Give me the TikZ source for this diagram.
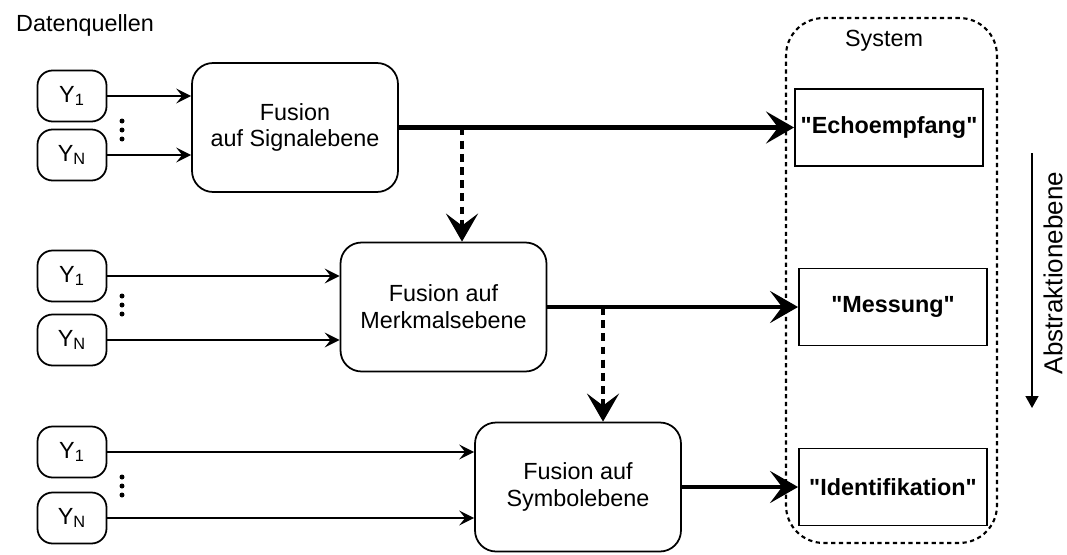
\documentclass[tikz,border=0pt]{standalone}
\usepackage{fontspec}
\setmainfont{Liberation Sans}
\usetikzlibrary{shapes,arrows.meta}
\tikzset{%
	source/.style   	= {draw, line width=1pt, rectangle, rounded corners=0.3cm, minimum width=1.38cm, minimum height=1.02cm, inner sep=0pt}, % Datenquelle
	fusion/.style   	= {draw, line width=1pt, rectangle, rounded corners=0.42cm, minimum width=4.12cm, minimum height=2.58cm, align=center, inner sep=0pt},
	result/.style   	= {draw, line width=1.1pt, rectangle, minimum width=3.76cm, minimum height=1.54cm, font=\fontsize{13.3pt}{15.3pt}\selectfont\bfseries, inner sep=0pt},
	container/.style	= {draw, line width=1.2pt, dash pattern=on 2.4pt off 2pt, rounded corners=0.75cm, minimum width=4.22cm, minimum height=10.5cm},
	feed/.style     	= {-{Stealth[length=0.3cm, width=0.3cm, inset=0.12cm]}, line width=1.1pt}, % Eingang
	level/.style    	= {-{Stealth[length=0.56cm, width=0.64cm, inset=0.24cm]}, line width=2.8pt}, % Ausgang
	refine/.style   	= {level, dash pattern=on 4.5pt off 3pt},
	ellipsisdot/.style	= {circle, fill, inner sep=0pt, minimum size=0.1cm}
}

\begin{document}
\begin{tikzpicture}[x=0.02cm, y=-0.02cm, font=\fontsize{13.3pt}{15.3pt}\selectfont]
	\useasboundingbox (0,0) rectangle (1067,554);

	\draw % Datenquellen und Fusionsebenen :
	node [anchor=base west] (quellen) at (10,32) {Datenquellen}
	node [source] (y11) at (72,96) {Y\textsubscript{1}}
	node [source] (y1n) at (72,155) {Y\textsubscript{N}}
	node [fusion] (fsig) at (295,127.5) {Fusion\\auf Signalebene}
	node [source] (y21) at (72,276) {Y\textsubscript{1}}
	node [source] (y2n) at (72,340) {Y\textsubscript{N}}
	node [fusion] (fmerk) at (443.5,307) {Fusion auf\\Merkmalsebene}
	node [source] (y31) at (72,452) {Y\textsubscript{1}}
	node [source] (y3n) at (72,518) {Y\textsubscript{N}}
	node [fusion] (fsym) at (578,487) {Fusion auf\\Symbolebene}
	;
	\foreach \top in {121,296,477}
		\foreach \dy in {0,9,18}
			\node [ellipsisdot] at (122,\top+\dy) {};

	% System mit den Ergebnissen
	\node [container] (system) at (891.5,280.5) {};
	\node [anchor=base] (systitle) at (884,47) {System};
	\node [result] (echo) at (889,127.5) {\textquotedbl Echoempfang\textquotedbl};
	\node [result] (messung) at (893,307) {\textquotedbl Messung\textquotedbl};
	\node [result] (ident) at (893,487) {\textquotedbl Identifikation\textquotedbl};

	% Abstraktionsrichtung
	\coordinate (abstop) at (1032,153);
	\coordinate (absbot) at (1032,408);
	\draw [-{Triangle[length=0.24cm, width=0.26cm]}, line width=0.85pt] (abstop) -- (absbot);
	\node [rotate=90, font=\fontsize{14.8pt}{17pt}\selectfont] (abstr) at (1053,273) {Abstraktionebene};

	% Joining blocks.
	\draw[feed] (y11.east) -- (y11.east -| fsig.west);
	\draw[feed] (y1n.east) -- (y1n.east -| fsig.west);
	\draw[feed] (y21.east) -- (y21.east -| fmerk.west);
	\draw[feed] (y2n.east) -- (y2n.east -| fmerk.west);
	\draw[feed] (y31.east) -- (y31.east -| fsym.west);
	\draw[feed] (y3n.east) -- (y3n.east -| fsym.west);

	\draw[level] (fsig.east) -- (echo.west);
	\draw[level] (fmerk.east) -- (messung.west);
	\draw[level] (fsym.east) -- (ident.west);

	\coordinate (tapsig) at (462,127.5);
	\coordinate (tapmerk) at (603,307);
	\draw[refine] (tapsig) -- (tapsig |- fmerk.north);
	\draw[refine] (tapmerk) -- (tapmerk |- fsym.north);
\end{tikzpicture}
\end{document}
